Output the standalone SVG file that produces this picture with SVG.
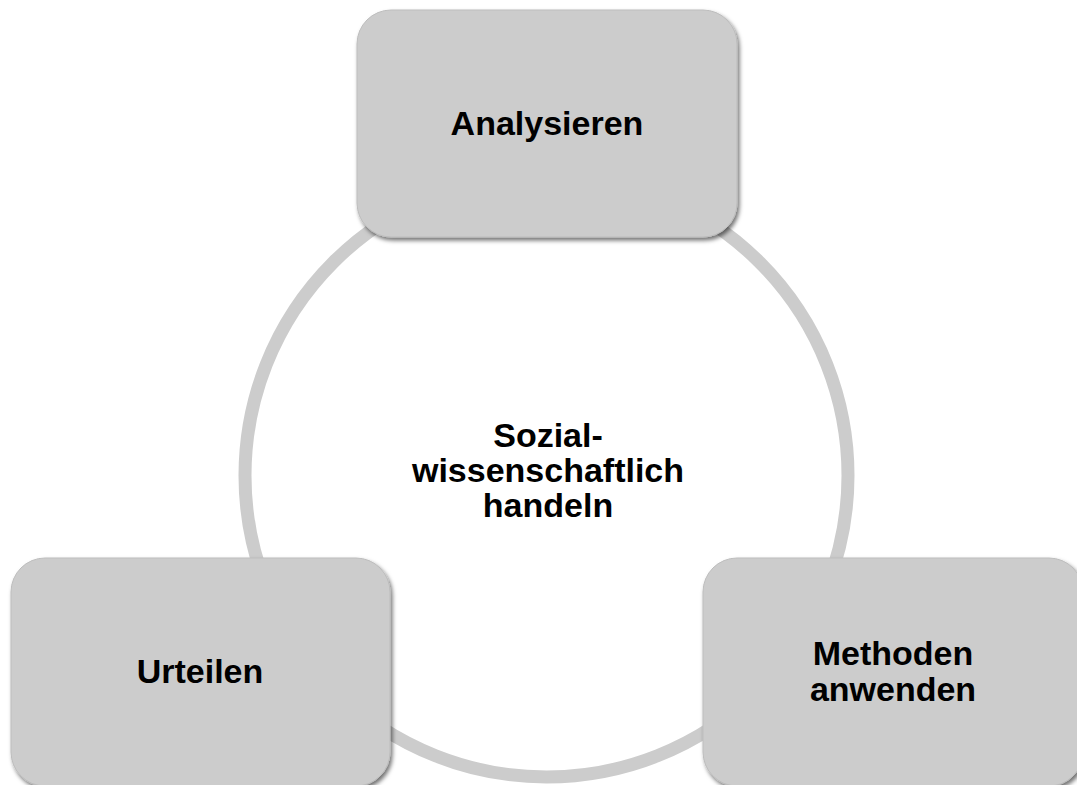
<svg xmlns="http://www.w3.org/2000/svg" width="1077" height="785" viewBox="0 0 1077 785">
<defs>
<filter id="sh" x="-10%" y="-10%" width="125%" height="130%">
<feDropShadow dx="2" dy="3" stdDeviation="2.2" flood-color="#000" flood-opacity="0.55"/>
</filter>
<style>
.box{fill:#cccccc;stroke:#bdbdbd;stroke-width:1;filter:url(#sh)}
.t{font-family:"Liberation Sans",Arial,sans-serif;font-weight:bold;font-size:34px;fill:#000;text-anchor:middle}
.ring{fill:none;stroke:#cccccc;stroke-width:13}
</style>
</defs>
<rect width="1077" height="785" fill="#ffffff"/>
<g id="connectors">
<circle class="ring" cx="546.5" cy="475.5" r="301.5"/>
</g>
<g id="center">
<text class="t" x="548" y="447">Sozial-</text>
<text class="t" x="548" y="482">wissenschaftlich</text>
<text class="t" x="548" y="517">handeln</text>
</g>
<g id="analysieren">
<rect class="box" x="357" y="10" width="380" height="227" rx="34" ry="34"/>
<text class="t" x="547" y="135">Analysieren</text>
</g>
<g id="urteilen">
<rect class="box" x="11" y="558" width="379" height="228" rx="34" ry="34"/>
<text class="t" x="200" y="683">Urteilen</text>
</g>
<g id="methoden">
<rect class="box" x="703" y="558" width="380" height="228" rx="34" ry="34"/>
<text class="t" x="893" y="665">Methoden</text>
<text class="t" x="893" y="701">anwenden</text>
</g>
</svg>
